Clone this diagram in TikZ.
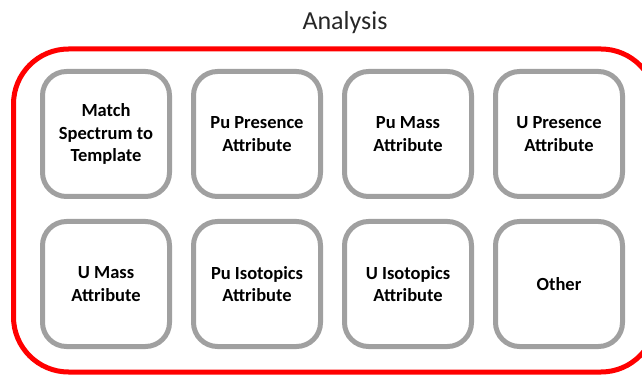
\documentclass[tikz,border=0pt]{standalone}
\usepackage{fontspec}
\setmainfont{Carlito}
\begin{document}
\begin{tikzpicture}[x=1pt,y=1pt,
  tile/.style={draw=tilegray, line width=5pt, fill=white, rounded corners=24pt,
    minimum width=127pt, minimum height=125pt, inner sep=0pt,
    align=center, font=\fontsize{18.5}{22.5}\selectfont\bfseries, text=black},
  frame/.style={draw=red, line width=5pt, rounded corners=55pt}]
\definecolor{tilegray}{RGB}{160,160,160}
\useasboundingbox (0,0) rectangle (642,375);
\clip (0,0) rectangle (642,375);

% title
\node[anchor=base, font=\fontsize{26}{30}\selectfont, text=black!85] (title) at (345,345.7) {Analysis};

% outer red frame
\draw[frame] (13.5,326) rectangle (656,3);

% first row
\node[tile] (match) at (106,241) {Match\\Spectrum to\\Template};
\node[tile] (pupres) at (257,241) {Pu Presence\\Attribute};
\node[tile] (pumass) at (408,241) {Pu Mass\\Attribute};
\node[tile] (upres) at (559,241) {U Presence\\Attribute};

% second row
\node[tile] (umass) at (106,91) {U Mass\\Attribute};
\node[tile] (puiso) at (257,91) {Pu Isotopics\\Attribute};
\node[tile] (uiso) at (408,91) {U Isotopics\\Attribute};
\node[tile] (other) at (559,91) {Other};
\end{tikzpicture}
\end{document}
